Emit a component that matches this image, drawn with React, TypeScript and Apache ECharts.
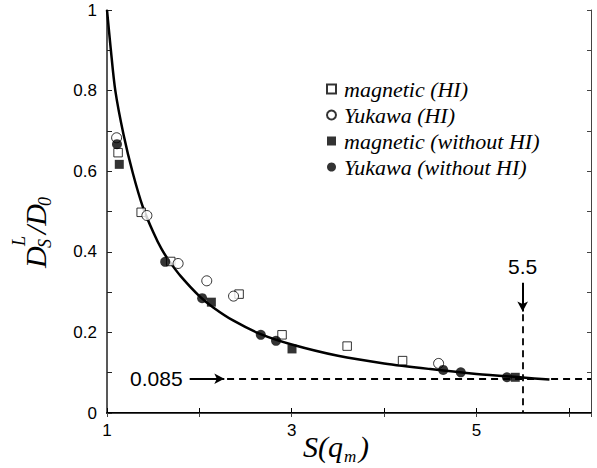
import React, { useEffect, useRef } from "react";
import * as echarts from "echarts";

// Fitted curve
const CURVE_X = [1, 1.04, 1.09, 1.18, 1.28, 1.39, 1.5, 1.59, 1.68, 1.8, 2.0, 2.15, 2.37, 2.67, 3.0, 3.5, 4.0, 4.5, 5.0, 5.5, 5.79];
const CURVE_Y = [1, 0.905, 0.8, 0.69, 0.595, 0.51, 0.449, 0.407, 0.375, 0.339, 0.29, 0.262, 0.229, 0.195, 0.17, 0.142, 0.123, 0.109, 0.097, 0.088, 0.083];

// Data points [S(q_m), D_S^L/D_0]
const MAG_HI = [[1.12, 0.646], [1.37, 0.498], [1.69, 0.376], [2.43, 0.295], [2.895, 0.194], [3.6, 0.166], [4.2, 0.13]];
const YUK_HI = [[1.104, 0.683], [1.432, 0.49], [1.77, 0.371], [2.08, 0.328], [2.37, 0.29], [4.59, 0.123]];
const MAG_NOHI = [[1.133, 0.617], [2.13, 0.275], [3.003, 0.159], [5.42, 0.0886]];
const YUK_NOHI = [[1.108, 0.667], [1.63, 0.375], [2.03, 0.285], [2.665, 0.194], [2.83, 0.179], [4.64, 0.107], [4.83, 0.101], [5.33, 0.0886]];

const SERIES_NAMES = ["magnetic (HI)", "Yukawa (HI)", "magnetic (without HI)", "Yukawa (without HI)"];
const X_LABELS = [1, 3, 5];

// Annotations
const D_LIMIT = 0.085;
const S_LIMIT = 5.5;
const X_MIN = 1;
const X_MAX = 6.24;

const SERIF = "'Liberation Serif', 'Times New Roman', serif";
const SANS = "'Liberation Sans', Arial, sans-serif";

export default function App() {
  const ref = useRef<HTMLDivElement>(null);
  useEffect(() => {
    if (!ref.current) return;
    const chart = echarts.init(ref.current, undefined, { renderer: "svg" });
    const curve = CURVE_X.map((x, i) => [x, CURVE_Y[i]]);
    const lblStyle = { fontFamily: SANS, fontSize: 17, color: "#000" };
    const option: any = {
      animation: false,
      backgroundColor: "#fff",
      grid: { left: 107, right: 6, top: 10, bottom: 55 },
      xAxis: [
        {
          type: "value", min: X_MIN, max: X_MAX, interval: 1, position: "bottom",
          axisLine: { lineStyle: { color: "#000", width: 2 } },
          axisTick: { inside: true, length: 5, lineStyle: { color: "#000", width: 1 } },
          splitLine: { show: false },
          axisLabel: {
            ...lblStyle, margin: 9, showMaxLabel: false,
            formatter: (v: number) => (X_LABELS.includes(Math.round(v)) && Math.abs(v - Math.round(v)) < 1e-6 ? String(Math.round(v)) : ""),
          },
        },
        {
          type: "value", min: X_MIN, max: X_MAX, interval: 1, position: "top",
          axisLine: { lineStyle: { color: "#444", width: 1 } },
          axisTick: { inside: true, length: 4, lineStyle: { color: "#444" } },
          axisLabel: { show: false }, splitLine: { show: false },
        },
      ],
      yAxis: [
        {
          type: "value", min: 0, max: 1, interval: 0.1, position: "left",
          axisLine: { show: true, lineStyle: { color: "#222", width: 1.5 } },
          axisTick: { show: true, inside: true, length: 5, lineStyle: { color: "#222" } },
          splitLine: { show: false },
          axisLabel: {
            ...lblStyle, margin: 10,
            formatter: (v: number) => {
              const t = Math.round(v * 10);
              return t % 2 === 0 ? String(t / 10) : "";
            },
          },
        },
        {
          type: "value", min: 0, max: 1, interval: 0.1, position: "right",
          axisLine: { show: true, lineStyle: { color: "#444", width: 1 } },
          axisTick: { show: true, inside: true, length: 4, lineStyle: { color: "#444" } },
          axisLabel: { show: false }, splitLine: { show: false },
        },
      ],
      legend: {
        orient: "vertical", left: 321, top: 71, itemWidth: 9, itemHeight: 9, itemGap: 0,
        data: SERIES_NAMES,
        textStyle: { fontFamily: SERIF, fontStyle: "italic", fontSize: 22, lineHeight: 26, color: "#000", padding: [0, 0, 0, 3] },
      },
      series: [
        {
          name: "fit", type: "line", data: curve, smooth: 0.3, showSymbol: false, symbol: "none",
          lineStyle: { color: "#000", width: 2.5 }, z: 1,
          markLine: {
            silent: true, symbol: ["none", "none"], symbolSize: [8, 10],
            data: [
              [
                { coord: [1.895, D_LIMIT], symbol: "none", lineStyle: { type: "solid", color: "#000", width: 2 },
                  label: { show: true, position: "start", formatter: String(D_LIMIT), fontFamily: SANS, fontSize: 21, color: "#000", distance: 7 } },
                { coord: [2.27, D_LIMIT], symbol: "arrow" },
              ],
              [
                { coord: [2.3, D_LIMIT], symbol: "none", lineStyle: { type: [7, 5], color: "#000", width: 1.8 }, label: { show: false } },
                { coord: [X_MAX, D_LIMIT], symbol: "none" },
              ],
              [
                { coord: [S_LIMIT, 0.323], symbol: "none", lineStyle: { type: "solid", color: "#000", width: 2 },
                  label: { show: true, position: "start", formatter: String(S_LIMIT), fontFamily: SANS, fontSize: 21, color: "#000", distance: 6 } },
                { coord: [S_LIMIT, 0.252], symbol: "arrow" },
              ],
              [
                { coord: [S_LIMIT, 0.245], symbol: "none", lineStyle: { type: [7, 5], color: "#000", width: 1.8 }, label: { show: false } },
                { coord: [S_LIMIT, 0], symbol: "none" },
              ],
            ],
          },
        },
        {
          name: SERIES_NAMES[0], type: "scatter", data: MAG_HI, symbol: "rect", symbolSize: 8.5,
          itemStyle: { color: "#fff", borderColor: "#000", borderWidth: 1 }, z: 3,
        },
        {
          name: SERIES_NAMES[1], type: "scatter", data: YUK_HI, symbol: "circle", symbolSize: 10,
          itemStyle: { color: "#fff", borderColor: "#000", borderWidth: 1 }, z: 3,
        },
        {
          name: SERIES_NAMES[2], type: "scatter", data: MAG_NOHI, symbol: "rect", symbolSize: 9,
          itemStyle: { color: "#000" }, z: 3,
        },
        {
          name: SERIES_NAMES[3], type: "scatter", data: YUK_NOHI, symbol: "circle", symbolSize: 10,
          itemStyle: { color: "#000" }, z: 3,
        },
      ],
      graphic: [
        { type: "text", x: 303, y: 446, style: { text: "S(q", font: `italic 30px ${SERIF}`, fill: "#000", verticalAlign: "middle" } },
        { type: "text", x: 344, y: 456, style: { text: "m", font: `italic 17px ${SERIF}`, fill: "#000", verticalAlign: "middle" } },
        { type: "text", x: 359, y: 446, style: { text: ")", font: `italic 30px ${SERIF}`, fill: "#000", verticalAlign: "middle" } },
        {
          type: "group", x: 35, y: 268, rotation: Math.PI / 2,
          children: [
            { type: "text", x: 0, y: 0, style: { text: "D", font: `italic 30px ${SERIF}`, fill: "#000", verticalAlign: "middle" } },
            { type: "text", x: 20, y: 10, style: { text: "S", font: `italic 18px ${SERIF}`, fill: "#000", verticalAlign: "middle" } },
            { type: "text", x: 22, y: -16, style: { text: "L", font: `italic 18px ${SERIF}`, fill: "#000", verticalAlign: "middle" } },
            { type: "text", x: 34, y: 0, style: { text: "/D", font: `italic 30px ${SERIF}`, fill: "#000", verticalAlign: "middle" } },
            { type: "text", x: 62, y: 10, style: { text: "0", font: `italic 18px ${SERIF}`, fill: "#000", verticalAlign: "middle" } },
          ],
        },
      ],
    };
    chart.setOption(option);
    return () => chart.dispose();
  }, []);
  return <div ref={ref} style={{ position: "fixed", left: 0, top: 0, width: 597, height: 468 }} />;
}
